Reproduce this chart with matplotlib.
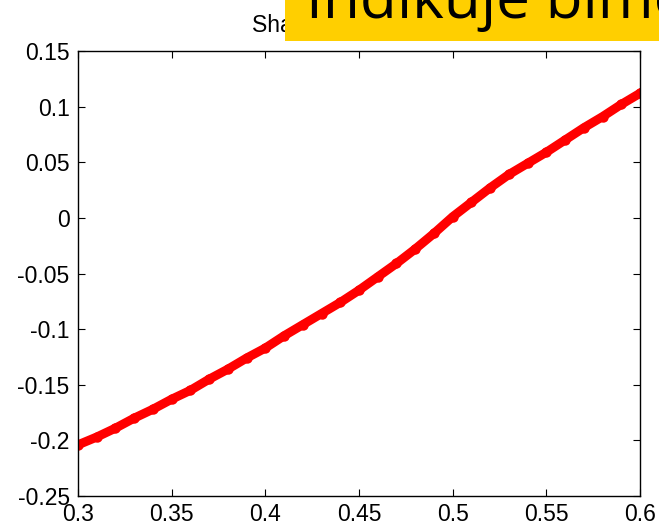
import matplotlib
matplotlib.use('Agg')
import matplotlib.pyplot as plt
import numpy as np

# values
xVals = [0.30, 0.31, 0.32, 0.33, 0.34, 0.35, 0.36, 0.37, 0.38, 0.39,
         0.40, 0.41, 0.42, 0.43, 0.44, 0.45, 0.46, 0.47, 0.48, 0.49,
         0.50, 0.51, 0.52, 0.53, 0.54, 0.55, 0.56, 0.57, 0.58, 0.59, 0.60]
yVals = [-0.204, -0.197, -0.189, -0.180, -0.172, -0.163, -0.155, -0.145, -0.136, -0.126,
         -0.117, -0.106, -0.096, -0.086, -0.076, -0.065, -0.053, -0.041, -0.028, -0.014,
         0.001, 0.014, 0.027, 0.039, 0.049, 0.059, 0.070, 0.081, 0.091, 0.102, 0.112]

xTicks = [0.3, 0.35, 0.4, 0.45, 0.5, 0.55, 0.6]
xTickLabels = ['0.3', '0.35', '0.4', '0.45', '0.5', '0.55', '0.6']
yTicks = [-0.25, -0.2, -0.15, -0.1, -0.05, 0, 0.05, 0.1, 0.15]
yTickLabels = ['-0.25', '-0.2', '-0.15', '-0.1', '-0.05', '0', '0.05', '0.1', '0.15']

titleText = "Shapiro-Wilk test"
calloutText = "Indikuje bimodalitu"

plt.rcParams['font.family'] = ['Liberation Sans', 'DejaVu Sans']

W, H = 659, 525
fig = plt.figure(figsize=(W/100., H/100.), dpi=100)
ax = fig.add_axes([78./W, 1 - 496./H, (640-78.)/W, (496-51.)/H])

ax.plot(xVals, yVals, '-o', color='red', lw=6.5, ms=7.5, mew=0)

ax.set_xlim(0.3, 0.6)
ax.set_ylim(-0.25, 0.15)
ax.set_xticks(xTicks)
ax.set_xticklabels(xTickLabels)
ax.set_yticks(yTicks)
ax.set_yticklabels(yTickLabels)
ax.tick_params(direction='in', length=5, width=0.8, top=True, right=True,
               labelsize=16.5, colors='black')
ax.tick_params(axis='x', pad=5)
ax.tick_params(axis='y', pad=6)
for s in ax.spines.values():
    s.set_linewidth(1.0)

ax.text((252-78.)/(640-78.), 1 + (51-32.)/(496-51.), titleText, transform=ax.transAxes,
        ha='left', va='baseline', fontsize=16.5)

# yellow callout box over the title
fig.patches.append(matplotlib.patches.Rectangle((285./W, 1 - 41./H), 1, 41./H,
                   transform=fig.transFigure, facecolor='#FFCF00', edgecolor='none', zorder=10))
fig.text(306./W, 1 - 18./H, calloutText, ha='left', va='baseline', fontsize=43.5,
         family=['Open Sans', 'DejaVu Sans'], color='black', zorder=11)

plt.savefig("out.png", dpi=100)
plt.close()
